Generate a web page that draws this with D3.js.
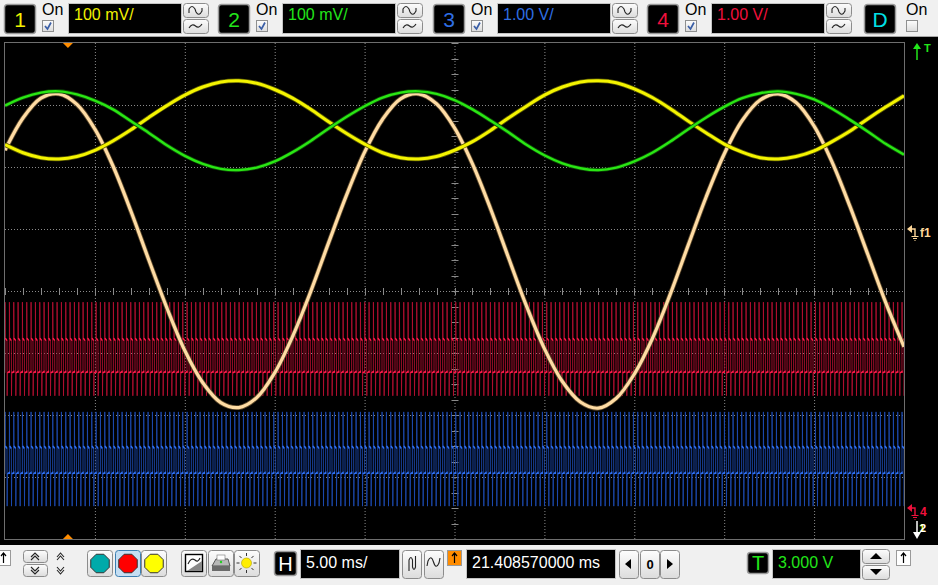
<!DOCTYPE html>
<html>
<head>
<meta charset="utf-8">
<script src="https://cdn.jsdelivr.net/npm/d3@7"></script>
<style>
  html, body { margin: 0; padding: 0; background: #f0f0f0; }
  svg { display: block; font-family: "Liberation Sans", Arial, sans-serif; }
</style>
</head>
<body>
<svg id="scope" width="938" height="585"></svg>
<script>
// sample times, ms from the left edge of the screen (5 ms/div, 10 div)
const timeMs = [0,1,2,3,4,5,6,7,8,9,10,11,12,13,14,15,16,17,18,19,20,21,22,23,24,25,
  26,27,28,29,30,31,32,33,34,35,36,37,38,39,40,41,42,43,44,45,46,47,48,49,50];

// trace positions, in divisions from centre
const ch1Div = [2.36,2.23,2.15,2.13,2.17,2.27,2.42,2.60,2.80,2.99,3.16,3.29,3.37,3.39,3.35,3.25,3.11,
  2.93,2.73,2.54,2.37,2.23,2.15,2.13,2.17,2.27,2.41,2.59,2.79,2.98,3.16,3.29,3.37,3.39,3.36,3.26,3.12,
  2.94,2.74,2.55,2.37,2.24,2.15,2.13,2.17,2.26,2.41,2.58,2.78,2.97,3.15];
const ch2Div = [2.99,3.12,3.20,3.22,3.17,3.07,2.93,2.74,2.55,2.35,2.18,2.05,1.97,1.95,1.99,2.09,2.24,
  2.42,2.62,2.81,2.98,3.12,3.20,3.22,3.18,3.08,2.93,2.75,2.56,2.36,2.19,2.06,1.98,1.95,1.99,2.09,2.23,
  2.41,2.61,2.80,2.97,3.11,3.19,3.22,3.18,3.09,2.94,2.76,2.57,2.37,2.20];
const f1Div = [2.27,2.79,3.11,3.18,3.01,2.61,2.02,1.29,0.50,-0.27,-0.96,-1.48,-1.80,-1.88,-1.72,-1.32,
  -0.73,-0.01,0.78,1.55,2.24,2.77,3.10,3.18,3.02,2.63,2.05,1.33,0.54,-0.24,-0.93,-1.46,-1.79,-1.89,
  -1.73,-1.34,-0.77,-0.05,0.74,1.52,2.21,2.75,3.08,3.18,3.04,2.66,2.08,1.36,0.58,-0.20,-0.90];

// ch3 / ch4: one switching cycle, [fraction of cycle, divisions, flat part?]
const cycleMs = 0.241;
const ch3Cycle = [[0,-2.95,1],[0.02,-1.95,0],[0.07,-2.50,1],[0.46,-2.54,1],[0.50,-3.47,0],[0.56,-2.95,1],[1,-2.93,1]];
const ch4Cycle = [[0,-1.32,1],[0.02,-0.18,0],[0.07,-0.76,1],[0.46,-0.80,1],[0.50,-1.69,0],[0.56,-1.32,1],[1,-1.30,1]];

// toolbar texts
const chanLabels = ["1", "2", "3", "4"];
const chanScales = ["100 mV/", "100 mV/", "1.00 V/", "1.00 V/"];
const chanColors = ["#f2f200", "#22e61a", "#2f6fe4", "#f0103c"];
const timeScale = "5.00 ms/";
const delayText = "21.408570000 ms";
const trigLevel = "3.000 V";
const trigMs = 3.5;

const svg = d3.select("#scope");
const W = 938, H = 585;

const defs = svg.append("defs");
const grad = defs.append("linearGradient").attr("id", "btn").attr("x1", 0).attr("y1", 0).attr("x2", 0).attr("y2", 1);
grad.append("stop").attr("offset", "0%").attr("stop-color", "#fdfdfd");
grad.append("stop").attr("offset", "100%").attr("stop-color", "#dcdcdc");

svg.append("rect").attr("width", W).attr("height", H).attr("fill", "#f0f0f0");
svg.append("rect").attr("x", 0).attr("y", 37).attr("width", W).attr("height", 508).attr("fill", "#000");
svg.append("line").attr("x1", 0).attr("x2", W).attr("y1", 36.5).attr("y2", 36.5).attr("stroke", "#a6a6a6");

// ---------- plot ----------
const x = d3.scaleLinear().domain([0, 50]).range([5, 904]);
const y = d3.scaleLinear().domain([-4, 4]).range([539, 43]);

defs.append("clipPath").attr("id", "plotclip")
  .append("rect").attr("x", 5).attr("y", 43).attr("width", 899).attr("height", 496);

const grid = svg.append("g").attr("stroke", "#8a8a8a").attr("stroke-dasharray", "1,2");
x.ticks(10).filter(t => t > 0 && t < 50).forEach(t => {
  grid.append("line").attr("x1", x(t) + 0.5).attr("x2", x(t) + 0.5).attr("y1", 43).attr("y2", 539);
});
y.ticks(8).filter(v => v > -4 && v < 4).forEach(v => {
  grid.append("line").attr("y1", Math.round(y(v)) + 0.5).attr("y2", Math.round(y(v)) + 0.5).attr("x1", 5).attr("x2", 904);
});

// minor ticks on the centre lines
const minor = svg.append("g").attr("stroke", "#8a8a8a");
d3.range(-4, 4.001, 0.25).forEach(v => {
  const yy = Math.round(y(v)) + 0.5;
  minor.append("line").attr("x1", x(25) - 3).attr("x2", x(25) + 4).attr("y1", yy).attr("y2", yy);
});
d3.range(0, 50.001, 1).forEach(t => {
  const xx = Math.round(x(t)) + 0.5;
  minor.append("line").attr("x1", xx).attr("x2", xx).attr("y1", y(0) - 3).attr("y2", y(0) + 4);
});

svg.append("rect").attr("x", 4.5).attr("y", 42.5).attr("width", 900).attr("height", 497)
  .attr("fill", "none").attr("stroke", "#6e6e6e");

const traces = svg.append("g").attr("clip-path", "url(#plotclip)");

function cycleSeries(cycle) {
  const pts = [];
  for (let k = 0; k * cycleMs < 50; k++) {
    cycle.forEach(c => pts.push({ t: (k + c[0]) * cycleMs, v: c[1], flat: c[2] === 1 }));
  }
  return pts;
}

const edges = d3.line().x(d => x(d.t)).y(d => y(d.v));
const flats = d3.line().defined(d => d.flat).x(d => x(d.t)).y(d => y(d.v));
function drawSwitching(cycle, dark, bright) {
  const pts = cycleSeries(cycle);
  traces.append("path").datum(pts).attr("d", edges)
    .attr("fill", "none").attr("stroke", dark).attr("stroke-width", 0.9);
  traces.append("path").datum(pts).attr("d", flats)
    .attr("fill", "none").attr("stroke", bright).attr("stroke-width", 1.5);
}
drawSwitching(ch3Cycle, "#1c4ab0", "#2f6ff0");
drawSwitching(ch4Cycle, "#b20f30", "#ff1a4a");

const smooth = d3.line().x(d => x(d.t)).y(d => y(d.v)).curve(d3.curveCatmullRom);
function drawTrace(vals, color, edge, w) {
  const data = timeMs.map((t, i) => ({ t: t, v: vals[i] }));
  traces.append("path").datum(data).attr("d", smooth)
    .attr("fill", "none").attr("stroke", edge).attr("stroke-width", w + 1.6);
  traces.append("path").datum(data).attr("d", smooth)
    .attr("fill", "none").attr("stroke", color).attr("stroke-width", w);
}
drawTrace(f1Div, "#ffdca4", "#5e4a2c", 3.2);
drawTrace(ch1Div, "#f4f400", "#5a5a00", 3);
drawTrace(ch2Div, "#2ae614", "#0c4a06", 2.4);

// trigger position markers
const tx = x(trigMs);
svg.append("path").attr("d", `M${tx - 5},43 L${tx + 5},43 L${tx},48 Z`).attr("fill", "#ff8c00");
svg.append("path").attr("d", `M${tx - 5},539 L${tx + 5},539 L${tx},534 Z`).attr("fill", "#ff8c00");

// right-hand level markers
const mk = svg.append("g").style("font-weight", "bold");
mk.append("line").attr("x1", 917).attr("x2", 917).attr("y1", 60).attr("y2", 46).attr("stroke", "#22e61a").attr("stroke-width", 1.5);
mk.append("path").attr("d", "M913,49 L917,43 L921,49 Z").attr("fill", "#22e61a");
mk.append("text").attr("x", 924).attr("y", 52).attr("font-size", 11).attr("fill", "#22e61a").text("T");

function groundMarker(yy, color, label) {
  mk.append("path").attr("d", `M907,${yy} L912,${yy - 4} L912,${yy + 4} Z`).attr("fill", color);
  mk.append("path").attr("d", `M911,${yy} L915,${yy} L915,${yy + 7}`).attr("fill", "none").attr("stroke", color).attr("stroke-width", 1.4);
  mk.append("path").attr("d", `M911.5,${yy + 7.5} L918.5,${yy + 7.5} M913,${yy + 9.5} L917,${yy + 9.5} M914.5,${yy + 11.5} L915.5,${yy + 11.5}`)
    .attr("stroke", color).attr("stroke-width", 1);
  mk.append("text").attr("x", 920).attr("y", yy + 8).attr("font-size", 12).attr("fill", color).text(label);
}
groundMarker(229, "#ffd89a", "f1");
groundMarker(508, "#f0103c", "4");

mk.append("line").attr("x1", 917).attr("x2", 917).attr("y1", 521).attr("y2", 533).attr("stroke", "#fff").attr("stroke-width", 1.5);
mk.append("path").attr("d", "M913,532 L921,532 L917,539 Z").attr("fill", "#fff");
mk.append("text").attr("x", 919).attr("y", 532).attr("font-size", 11).attr("fill", "#f2f200").text("1");
mk.append("text").attr("x", 920).attr("y", 532).attr("font-size", 11).attr("fill", "#fff").text("2");

// ---------- top toolbar ----------
const topBar = svg.append("g");

function button(g, bx, by, bw, bh) {
  return g.append("rect").attr("x", bx + 0.5).attr("y", by + 0.5).attr("width", bw).attr("height", bh)
    .attr("rx", 3).attr("fill", "url(#btn)").attr("stroke", "#8c8c8c");
}
function checkbox(g, bx, by, checked) {
  g.append("rect").attr("x", bx + 0.5).attr("y", by + 0.5).attr("width", 11).attr("height", 11)
    .attr("fill", "url(#btn)").attr("stroke", "#8e8f8f");
  if (checked) {
    g.append("path").attr("d", `M${bx + 3},${by + 6} L${bx + 5.5},${by + 9} L${bx + 9},${by + 2.5}`)
      .attr("fill", "none").attr("stroke", "#3a5ea6").attr("stroke-width", 1.7);
  }
}
function labelBox(g, bx, by, bw, bh, txt, color, size) {
  g.append("rect").attr("x", bx + 0.5).attr("y", by + 0.5).attr("width", bw).attr("height", bh)
    .attr("rx", 3).attr("fill", "#000").attr("stroke", "#9a9a9a").attr("stroke-width", 1.5);
  g.append("text").attr("x", bx + bw / 2 + 0.5).attr("y", by + bh / 2 + size * 0.36 + 0.5)
    .attr("text-anchor", "middle").attr("font-size", size).attr("fill", color).text(txt);
}
function valueBox(g, bx, by, bw, bh, txt, color, tyy) {
  g.append("rect").attr("x", bx + 0.5).attr("y", by + 0.5).attr("width", bw).attr("height", bh)
    .attr("fill", "#000").attr("stroke", "#c4c4c4");
  g.append("text").attr("x", bx + 6).attr("y", tyy).attr("font-size", 16).attr("fill", color).text(txt);
}
function glyph(g, d) {
  g.append("path").attr("d", d).attr("fill", "none").attr("stroke", "#222").attr("stroke-width", 1.1);
}

const groupX = [4, 218, 433, 647];
chanLabels.forEach((lab, i) => {
  const gx = groupX[i];
  labelBox(topBar, gx, 4, 31, 29, lab, chanColors[i], 21);
  topBar.append("text").attr("x", gx + 38).attr("y", 15).attr("font-size", 16).attr("fill", "#000").text("On");
  checkbox(topBar, gx + 38, 20, true);
  valueBox(topBar, gx + 64, 3, 113, 30, chanScales[i], chanColors[i], 20);
  const bx = gx + 179;
  button(topBar, bx, 3, 25, 14);
  button(topBar, bx, 19, 25, 14);
  glyph(topBar, `M${bx + 6},13 L${bx + 6},9 Q${bx + 9},4 ${bx + 12},9 L${bx + 13},12 Q${bx + 16},17 ${bx + 19},11 L${bx + 19},8`);
  glyph(topBar, `M${bx + 6},28 Q${bx + 9},23 ${bx + 12.5},26 Q${bx + 16},29 ${bx + 19},24`);
});
labelBox(topBar, 864, 4, 31, 29, "D", "#00e0e6", 21);
topBar.append("text").attr("x", 906).attr("y", 15).attr("font-size", 16).attr("fill", "#000").text("On");
checkbox(topBar, 906, 20, false);

// ---------- bottom toolbar ----------
const bot = svg.append("g");

function smallArrowBox(g, bx, by, fill) {
  g.append("rect").attr("x", bx + 0.5).attr("y", by + 0.5).attr("width", 14).attr("height", 15)
    .attr("fill", fill).attr("stroke", "#9a9a9a");
  g.append("path").attr("d", `M${bx + 7.5},${by + 13} L${bx + 7.5},${by + 3} M${bx + 5},${by + 6} L${bx + 7.5},${by + 3} L${bx + 10},${by + 6}`)
    .attr("fill", "none").attr("stroke", "#000").attr("stroke-width", 1.2);
}
smallArrowBox(bot, -4, 550, "#fff");

// scroll chevrons
button(bot, 23, 550, 24, 12);
button(bot, 23, 564, 24, 12);
glyph(bot, "M31,557 L35,553 L39,557 M31,560 L35,556 L39,560");
glyph(bot, "M31,567 L35,571 L39,567 M31,570 L35,574 L39,570");
glyph(bot, "M57,557 L60.5,553 L64,557 M57,560 L60.5,556 L64,560");
glyph(bot, "M57,567 L60.5,571 L64,567 M57,570 L60.5,574 L64,570");

// colour buttons
const dotColors = ["#00aaaa", "#ff0000", "#ffff00"];
const dotX = [87, 115, 141];
dotColors.forEach((c, i) => {
  const b = button(bot, dotX[i], 550, 25, 26);
  if (i === 1) b.attr("fill", "#c4def3").attr("stroke", "#3c7fb1");
  const cx = dotX[i] + 13, cy = 563.5, r = 10;
  const oct = d3.range(8).map(k => {
    const a = Math.PI / 8 + k * Math.PI / 4;
    return [cx + r * Math.cos(a), cy + r * Math.sin(a)];
  });
  bot.append("polygon").attr("points", oct.map(p => p.join(",")).join(" "))
    .attr("fill", c).attr("stroke", "#333").attr("stroke-width", 1);
});

// icon buttons
button(bot, 181, 550, 25, 26);
bot.append("rect").attr("x", 185.5).attr("y", 554.5).attr("width", 17).attr("height", 17).attr("fill", "#fff").attr("stroke", "#000").attr("stroke-width", 1.4);
bot.append("path").attr("d", "M187,571 L202,571 L202,561 Z").attr("fill", "#888");
glyph(bot, "M188,564 Q191,557 195,560 Q198,563 200,558");
button(bot, 208, 550, 25, 26);
bot.append("path").attr("d", "M212,566 L216,559 L228,559 L230,566 Z").attr("fill", "#b8b8b8").attr("stroke", "#555");
bot.append("rect").attr("x", 212).attr("y", 566).attr("width", 18).attr("height", 5).attr("fill", "#6a6a6a");
bot.append("rect").attr("x", 217).attr("y", 555).attr("width", 8).attr("height", 5).attr("fill", "#fff").attr("stroke", "#777").attr("stroke-width", 0.6);
bot.append("circle").attr("cx", 221).attr("cy", 562).attr("r", 1.2).attr("fill", "#2c2");
button(bot, 234, 550, 25, 26);
d3.range(8).forEach(k => {
  const a = k * Math.PI / 4;
  bot.append("line").attr("x1", 246.5 + 7 * Math.cos(a)).attr("y1", 563 + 7 * Math.sin(a))
    .attr("x2", 246.5 + 10 * Math.cos(a)).attr("y2", 563 + 10 * Math.sin(a)).attr("stroke", "#333").attr("stroke-width", 1);
});
bot.append("circle").attr("cx", 246.5).attr("cy", 563).attr("r", 5).attr("fill", "#ffee00").attr("stroke", "#b0a000").attr("stroke-width", 0.6);

// horizontal
labelBox(bot, 274, 551, 22, 24, "H", "#fff", 20);
valueBox(bot, 300, 549, 99, 29, timeScale, "#fff", 568);
button(bot, 402, 550, 19, 28);
button(bot, 424, 550, 19, 28);
glyph(bot, "M409,571 L409,560 Q411,555 412.5,560 L412.5,567 Q414,572 415.5,567 L415.5,556");
glyph(bot, "M427,566 L428,561 Q431,554 433.5,562 Q436,570 439,563 L440,558");
smallArrowBox(bot, 447, 550, "#ff8c00");
valueBox(bot, 466, 549, 149, 29, delayText, "#fff", 568);
button(bot, 619, 550, 19, 28);
button(bot, 640, 550, 19, 28);
button(bot, 660, 550, 19, 28);
bot.append("path").attr("d", "M625,564 L631,559 L631,569 Z").attr("fill", "#000");
bot.append("text").attr("x", 650).attr("y", 569).attr("text-anchor", "middle").attr("font-size", 13).attr("font-weight", "bold").attr("fill", "#000").text("0");
bot.append("path").attr("d", "M673,564 L667,559 L667,569 Z").attr("fill", "#000");

// trigger
labelBox(bot, 747, 552, 21, 21, "T", "#22e61a", 20);
valueBox(bot, 772, 549, 88, 29, trigLevel, "#22e61a", 568);
button(bot, 862, 549, 27, 14);
button(bot, 862, 565, 27, 14);
bot.append("path").attr("d", "M870,559 L876,553 L882,559 Z").attr("fill", "#000");
bot.append("path").attr("d", "M870,569 L876,575 L882,569 Z").attr("fill", "#000");
smallArrowBox(bot, 896, 550, "#fff");
</script>
</body>
</html>
